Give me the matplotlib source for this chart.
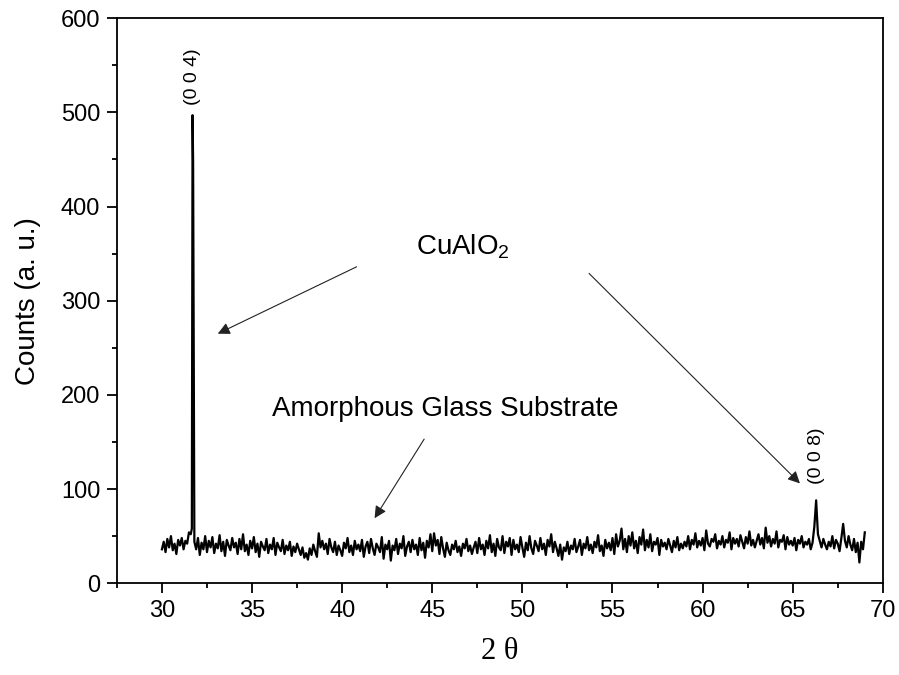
import numpy as np
import matplotlib
matplotlib.use("Agg")
import matplotlib.pyplot as plt

plt.rcParams["mathtext.fontset"] = "custom"
plt.rcParams["mathtext.rm"] = "Liberation Sans"
plt.rcParams["mathtext.it"] = "Liberation Sans:italic"
plt.rcParams["mathtext.bf"] = "Liberation Sans:bold"

# scan start / step (deg 2theta)
scan_start = 30.0
scan_step = 0.1

# counts, one row per degree
counts = [
    36, 44, 33, 47, 38, 50, 35, 42, 31, 46,  # 30
    40, 48, 36, 45, 42, 54, 52, 497, 44, 36,  # 31
    48, 30, 43, 36, 50, 33, 45, 38, 49, 32,  # 32
    42, 37, 51, 34, 44, 29, 46, 40, 35, 48,  # 33
    38, 43, 31, 47, 36, 52, 34, 41, 30, 45,  # 34
    37, 49, 33, 42, 28, 44, 39, 35, 47, 32,  # 35
    41, 36, 48, 30, 43, 38, 34, 46, 31, 40,  # 36
    35, 44, 29, 39, 33, 42, 36, 30, 38, 27,  # 37
    32, 25, 37, 30, 41, 34, 28, 53, 38, 45,  # 38
    36, 42, 31, 47, 38, 33, 44, 30, 40, 35,  # 39
    29, 43, 37, 48, 33, 40, 30, 45, 36, 41,  # 40
    34, 46, 28, 39, 44, 32, 47, 37, 30, 42,  # 41
    38, 33, 49, 26, 41, 36, 45, 24, 40, 35,  # 42
    47, 31, 42, 37, 50, 29, 39, 44, 33, 46,  # 43
    36, 41, 30, 48, 35, 43, 27, 45, 38, 52,  # 44
    34, 53, 40, 46, 31, 49, 37, 28, 43, 35,  # 45
    30, 41, 36, 45, 33, 39, 29, 42, 37, 47,  # 46
    34, 40, 31, 38, 44, 32, 48, 36, 41, 30,  # 47
    45, 37, 51, 33, 42, 29, 47, 38, 35, 50,  # 48
    32, 44, 39, 48, 30, 46, 36, 41, 33, 49,  # 49
    38, 28, 43, 35, 50, 37, 31, 45, 40, 34,  # 50
    48, 36, 42, 30, 46, 39, 52, 33, 44, 37,  # 51
    29, 41, 25, 38, 34, 44, 31, 40, 36, 47,  # 52
    33, 39, 46, 30, 42, 37, 49, 35, 41, 32,  # 53
    44, 38, 51, 34, 40, 29, 46, 37, 43, 35,  # 54
    48, 31, 52, 39, 45, 58, 36, 47, 33, 50,  # 55
    40, 54, 37, 45, 32, 49, 41, 57, 35, 46,  # 56
    38, 52, 34, 44, 41, 48, 30, 46, 39, 43,  # 57
    36, 47, 40, 33, 45, 38, 49, 35, 42, 37,  # 58
    44, 39, 50, 36, 46, 41, 53, 38, 45, 40,  # 59
    48, 35, 56, 42, 39, 47, 44, 52, 37, 45,  # 60
    41, 50, 38, 46, 43, 54, 36, 48, 42, 47,  # 61
    39, 51, 44, 37, 49, 42, 55, 40, 46, 38,  # 62
    45, 52, 41, 48, 37, 59, 43, 50, 39, 47,  # 63
    42, 55, 38, 46, 44, 51, 36, 49, 41, 45,  # 64
    40, 48, 35, 46, 42, 50, 38, 44, 41, 47,  # 65
    36, 43, 60, 88, 52, 45, 38, 47, 41, 36,  # 66
    44, 39, 50, 37, 46, 42, 34, 48, 63, 45,  # 67
    38, 50, 41, 35, 47, 33, 43, 22, 44, 36,  # 68
    54,                                      # 69
]

# extra points on the (0 0 4) peak flanks
peak_x = [31.66, 31.73, 31.76]
peak_y = [58, 448, 282]

two_theta = np.round(scan_start + scan_step * np.arange(len(counts)), 2)
x = np.concatenate([two_theta, peak_x])
y = np.concatenate([counts, peak_y])
order = np.argsort(x)
x, y = x[order], y[order]

fig = plt.figure(figsize=(8.99, 6.75), dpi=100)
ax = fig.add_axes([0.130, 0.136, 0.852, 0.837])

ax.plot(x, y, color="black", lw=1.6)

ax.set_xlim(27.5, 70)
ax.set_ylim(0, 600)
ax.set_xticks(np.arange(30, 71, 5))
ax.set_xticks(np.arange(27.5, 70.1, 2.5), minor=True)
ax.set_yticks(np.arange(0, 601, 100))
ax.set_yticks(np.arange(0, 601, 50), minor=True)

sans = "Liberation Sans"
ax.tick_params(which="major", direction="out", length=7, width=1.3,
               labelsize=17, pad=5, top=False, right=False)
ax.tick_params(which="minor", direction="out", length=3.8, width=1.3,
               top=False, right=False)
for lab in ax.get_xticklabels() + ax.get_yticklabels():
    lab.set_family(sans)
for s in ax.spines.values():
    s.set_linewidth(1.3)

ax.set_ylabel("Counts (a. u.)", fontsize=20, family=sans, labelpad=14)
ax.set_xlabel("2 θ", fontsize=22, family="Liberation Serif", labelpad=11)

# peak labels
ax.text(31.72, 508, "(0 0 4)", rotation=90, ha="center", va="bottom",
        fontsize=14, family=sans)
ax.text(66.3, 105, "(0 0 8)", rotation=90, ha="center", va="bottom",
        fontsize=14, family=sans)

arrow = dict(arrowstyle="-|>", lw=0.8, color="#222222", mutation_scale=18,
             shrinkA=0, shrinkB=0)

ax.text(46.7, 357, r"CuAlO$_2$", ha="center", va="center", fontsize=20,
        family=sans)
ax.annotate("", xy=(33.1, 265), xytext=(40.8, 336), arrowprops=arrow)
ax.annotate("", xy=(65.4, 106), xytext=(53.7, 329), arrowprops=arrow)

ax.text(45.7, 185, "Amorphous Glass Substrate", ha="center", va="center",
        fontsize=20, family=sans)
ax.annotate("", xy=(41.8, 69), xytext=(44.55, 153), arrowprops=arrow)

fig.savefig("out.png", dpi=100)
